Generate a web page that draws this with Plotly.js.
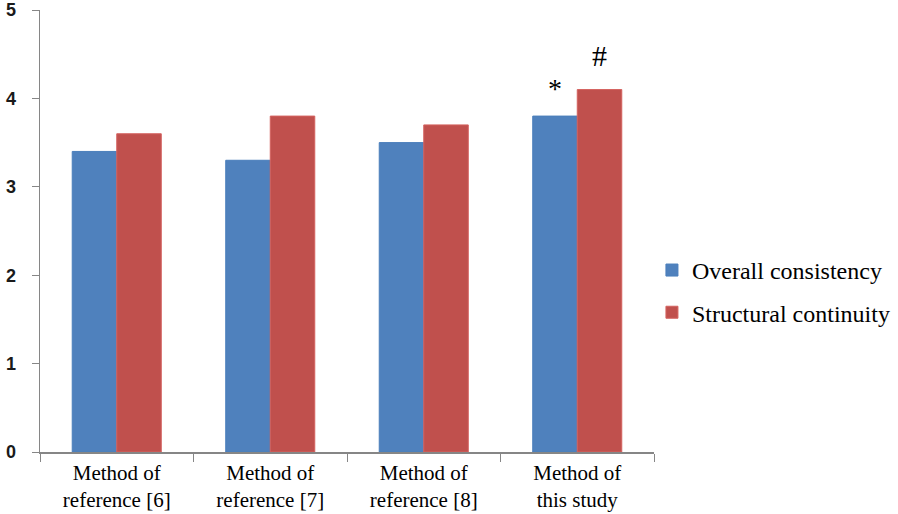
<!DOCTYPE html>
<html>
<head>
<meta charset="utf-8">
<script src="https://cdn.plot.ly/plotly-3.0.1.min.js"></script>
<style>html,body{margin:0;padding:0;background:#fff;}#chart{width:898px;height:514px;}</style>
</head>
<body>
<div id="chart"></div>
<script>
const categories = ["Method of<br>reference [6]", "Method of<br>reference [7]", "Method of<br>reference [8]", "Method of<br>this study"];
const overallConsistency = [3.4, 3.3, 3.5, 3.8];
const structuralContinuity = [3.6, 3.8, 3.7, 4.1];
const seriesNames = ["Overall consistency", "Structural continuity"];
const yTicks = [0, 1, 2, 3, 4, 5];
const marks = ["*", "#"];

const serif = "Liberation Serif, Times New Roman, serif";

const traces = [
  {type: "bar", name: seriesNames[0], x: categories, y: overallConsistency,
   marker: {color: "#4F81BD", line: {color: "#4A7EBB", width: 1}}, legendgroup: "a"},
  {type: "bar", name: seriesNames[1], x: categories, y: structuralContinuity,
   marker: {color: "#C0504D", line: {color: "#D4625F", width: 1}}, legendgroup: "b"}
];

const layout = {
  width: 898, height: 514,
  margin: {l: 40, r: 244, t: 10, b: 62, autoexpand: false},
  paper_bgcolor: "#fff", plot_bgcolor: "#fff",
  barmode: "group", bargap: 0.42, bargroupgap: 0,
  showlegend: true,
  legend: {x: 0.726, xanchor: "left", xref: "container", y: 0.433, yanchor: "middle", yref: "container",
    font: {family: serif, size: 24, color: "#000"}, tracegroupgap: 8,
    traceorder: "grouped", itemwidth: 30},
  xaxis: {type: "category", tickson: "boundaries", ticks: "outside", ticklen: 8,
    tickcolor: "#868686", showline: true, linecolor: "#868686", linewidth: 1.5,
    showgrid: false, ticklabelstandoff: 1,
    tickfont: {family: serif, size: 21, color: "#000"}, zeroline: false},
  yaxis: {range: [0, 5], tickvals: yTicks, ticks: "outside", ticklen: 7, tickcolor: "#868686",
    showline: true, linecolor: "#868686", linewidth: 1.5, showgrid: false, zeroline: false,
    ticklabelstandoff: 12,
    tickfont: {family: "Liberation Sans, Arial, sans-serif", size: 18, color: "#1a1a1a", weight: "bold"}},
  annotations: [
    {x: categories[3], y: overallConsistency[3], xref: "x", yref: "y", text: marks[0], showarrow: false,
     xshift: -22, yanchor: "bottom", yshift: 10, font: {family: serif, size: 28, color: "#000"}},
    {x: categories[3], y: structuralContinuity[3], xref: "x", yref: "y", text: marks[1], showarrow: false,
     xshift: 22, yanchor: "bottom", yshift: 16, font: {family: serif, size: 30, color: "#000"}}
  ]
};

Plotly.newPlot("chart", traces, layout, {displayModeBar: false, staticPlot: true});
</script>
</body>
</html>
